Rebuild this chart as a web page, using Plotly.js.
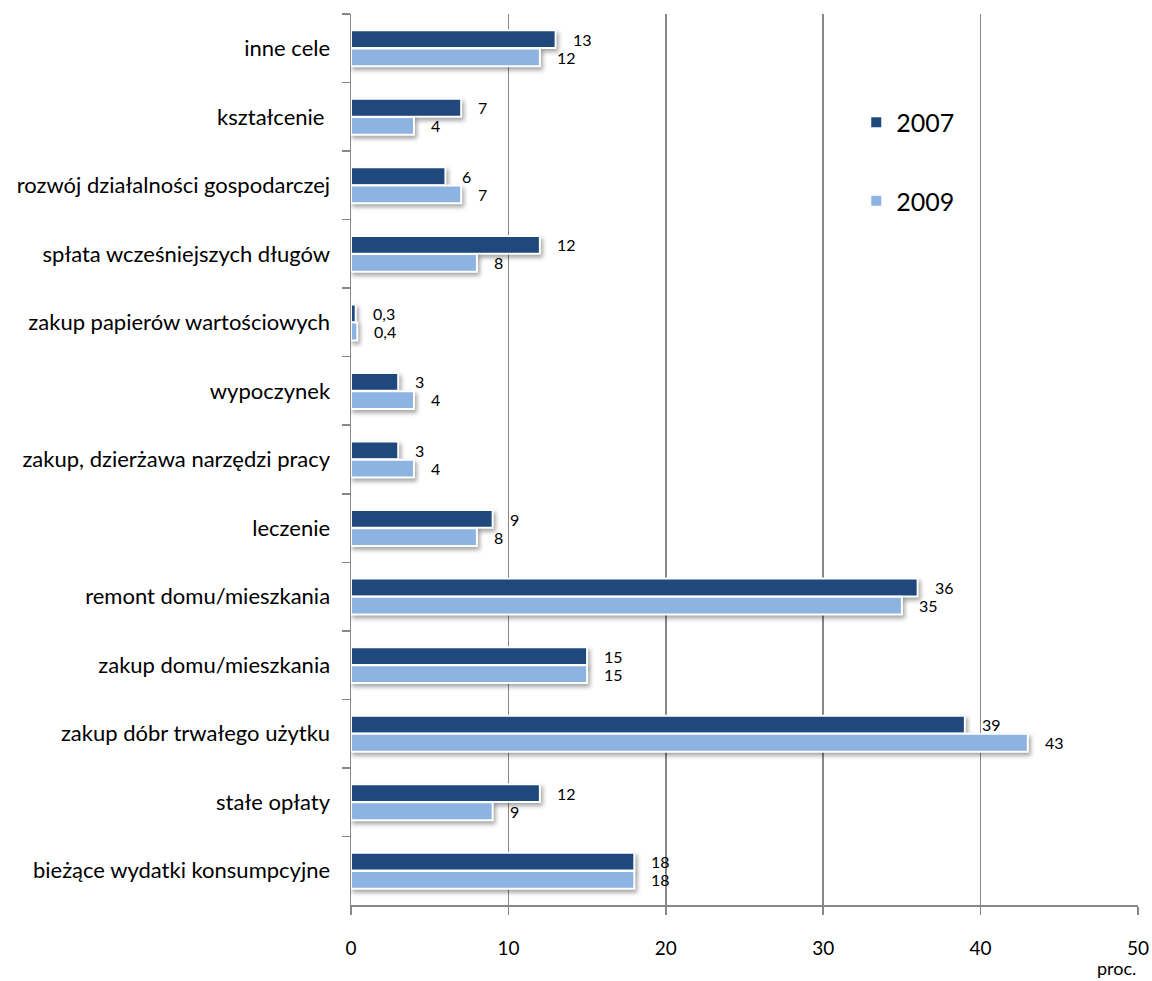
<!DOCTYPE html>
<html>
<head>
<meta charset="utf-8">
<script src="https://cdn.plot.ly/plotly-3.0.1.min.js"></script>
<style>
  html, body { margin: 0; padding: 0; background: #fff; }
  #chart { width: 1152px; height: 981px; }
  .barlayer .point path { filter: drop-shadow(2px 3px 2px rgba(0,0,0,0.35)); }
</style>
</head>
<body>
<div id="chart"></div>
<script>
// Purposes, listed top to bottom as they appear on the chart
const categories = [
  "inne cele",
  "kształcenie ",
  "rozwój działalności gospodarczej",
  "spłata wcześniejszych długów",
  "zakup papierów wartościowych",
  "wypoczynek",
  "zakup, dzierżawa narzędzi pracy",
  "leczenie",
  "remont domu/mieszkania",
  "zakup domu/mieszkania",
  "zakup dóbr trwałego użytku",
  "stałe opłaty",
  "bieżące wydatki konsumpcyjne"
];
const values2007 = [13, 7, 6, 12, 0.3, 3, 3, 9, 36, 15, 39, 12, 18];
const values2009 = [12, 4, 7, 8, 0.4, 4, 4, 8, 35, 15, 43, 9, 18];
const seriesNames = ["2007", "2009"];
const xTicks = [0, 10, 20, 30, 40, 50];

const colors = ["#1F497D", "#8DB3E2"];
const FONT = "Lato, 'Open Sans', sans-serif";

// Polish decimal comma for the value labels
const fmt = v => String(v).replace(".", ",");

const series = [values2007, values2009];
const traces = series.map((vals, k) => ({
  type: "bar",
  orientation: "h",
  name: seriesNames[k],
  legendgroup: "g" + k,
  x: vals,
  y: categories,
  marker: { color: colors[k], line: { color: "#ffffff", width: 2 } },
  hoverinfo: "x+name"
}));

// Value labels to the right of each bar end
const annotations = [];
series.forEach((vals, k) => {
  vals.forEach((v, i) => {
    annotations.push({
      x: v, y: categories[i], xref: "x", yref: "y",
      text: fmt(v), showarrow: false,
      xanchor: "left", yanchor: "middle",
      xshift: 15, yshift: k === 0 ? 9 : -9,
      font: { family: FONT, size: 16, color: "#000" }
    });
  });
});
// Unit note under the right end of the value axis
annotations.push({
  x: 1, y: 0, xref: "paper", yref: "paper",
  text: "proc.", showarrow: false,
  xanchor: "right", yanchor: "top", yshift: -50, xshift: 0,
  font: { family: FONT, size: 18, color: "#000" }
});

const layout = {
  width: 1152, height: 981,
  margin: { l: 351, r: 14, t: 14, b: 76 },
  paper_bgcolor: "#fff", plot_bgcolor: "#fff",
  font: { family: FONT, color: "#000" },
  barmode: "group",
  bargap: 0.47,
  bargroupgap: 0.02,
  showlegend: true,
  legend: {
    x: 0.642, y: 0.904, xanchor: "left", yanchor: "top",
    font: { family: FONT, size: 25, color: "#000" },
    tracegroupgap: 43,
    bgcolor: "rgba(0,0,0,0)"
  },
  xaxis: {
    range: [0, 50],
    tickvals: xTicks,
    ticktext: xTicks.map(String),
    showgrid: true, gridcolor: "#878787", gridwidth: 1.5,
    zeroline: false,
    showline: true, linecolor: "#878787", linewidth: 1.5,
    ticks: "outside", ticklen: 8, tickcolor: "#878787", tickwidth: 1.5,
    ticklabelstandoff: 18,
    tickfont: { family: FONT, size: 19, color: "#000" },
    fixedrange: true
  },
  yaxis: {
    type: "category",
    autorange: "reversed",
    showline: true, linecolor: "#878787", linewidth: 1.5,
    ticks: "outside", tickson: "boundaries", ticklen: 8,
    tickcolor: "#878787", tickwidth: 1.5,
    ticklabelstandoff: 15,
    tickfont: { family: FONT, size: 22, color: "#000" },
    showgrid: false,
    fixedrange: true
  },
  annotations: annotations
};

Plotly.newPlot("chart", traces, layout, { displayModeBar: false, staticPlot: true });
</script>
</body>
</html>
